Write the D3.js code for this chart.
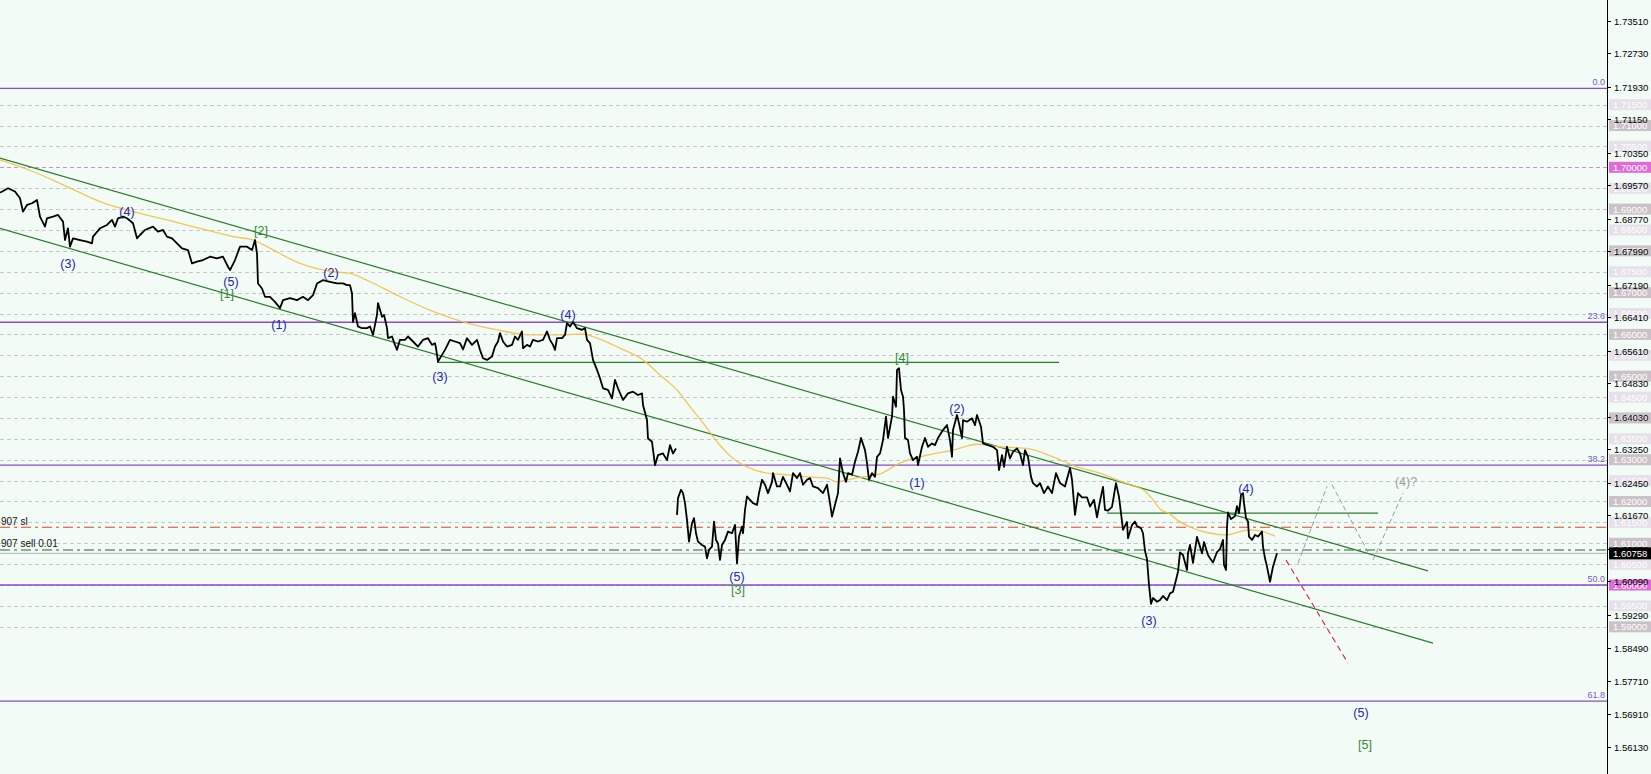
<!DOCTYPE html>
<html><head><meta charset="utf-8">
<script src="https://cdn.jsdelivr.net/npm/d3@7"></script>
<style>body{margin:0;background:#f2fbf6;}svg{display:block;}</style>
</head><body><svg id="c" width="1651" height="774"></svg>
<script>
// ---------- DATA ----------
const priceBars = [0,8,15,20,23,27,32,37,40,45,47,53,58,63,65,68,70,73,80,87,92,93,100,107,112,115,118,123,127,133,137,140,145,153,158,163,167,172,177,182,188,192,197,203,210,217,223,228,230,235,240,247,252,255,257,258,262,265,270,275,280,283,290,297,303,308,313,317,323,330,337,343,347,350,352,353,355,358,362,367,370,373,377,378,382,384,387,388,392,395,397,400,405,408,413,418,423,428,432,435,436,438,442,445,450,455,460,463,467,472,477,480,483,487,492,495,498,500,503,507,512,515,518,522,523,527,530,533,538,543,547,550,553,555,557,562,565,567,570,573,577,582,585,587,590,593,597,600,603,608,612,615,618,623,628,633,638,642,643,647,648,652,655,658,663,667,670,673,676,
676.5,
677,678,681,683,685,687,689,692,694,696,698,702,705,707,709,712,714,716,718,720,722,725,728,732,735,737,739,742,743,745,747,750,753,757,759,762,765,768,772,773,777,780,783,787,790,793,797,800,803,807,810,813,818,823,827,830,832,835,838,840,843,846,848,852,855,858,861,865,867,869,872,875,877,880,883,886,888,892,893,896,897,899,901,903,904,905,908,910,913,917,918,922,925,928,932,935,938,943,947,950,952,953,957,959,962,963,967,972,975,977,981,983,988,993,997,999,1002,1004,1007,1010,1013,1017,1020,1023,1025,1028,1031,1033,1037,1040,1044,1048,1052,1056,1060,1065,1070,1072,1075,1078,1082,1087,1090,1094,1097,1100,1103,1105,1108,1112,1116,1119,1121,1123,1127,1128,1132,1135,1137,1141,1143,1145,1147,1149,1151,1153,1157,1160,1163,1167,1170,1173,1176,1178,1180,1183,1187,1188,1190,1193,1197,1200,1202,1204,1208,1210,1213,1217,1220,1223,1224,1226,1227,1228,1231,1235,1237,1239,1241,1243,1244,1246,1248,1249,1252,1255,1258,1262,1263,1265,1267,1270,1273,1275,1277];
const priceVals = [1.6939,1.6950,1.6942,1.6926,1.6894,1.6910,1.6914,1.6922,1.6882,1.6858,1.6878,1.6882,1.6886,1.6870,1.6826,1.6854,1.6810,1.6830,1.6826,1.6822,1.6818,1.6834,1.6854,1.6862,1.6874,1.6858,1.6878,1.6882,1.6878,1.6866,1.6830,1.6838,1.6850,1.6858,1.6846,1.6850,1.6834,1.6830,1.6818,1.6806,1.6802,1.6770,1.6774,1.6778,1.6786,1.6782,1.6786,1.6762,1.6754,1.6778,1.6810,1.6810,1.6802,1.6826,1.6794,1.6722,1.6710,1.6690,1.6690,1.6678,1.6663,1.6682,1.6687,1.6682,1.6690,1.6682,1.6694,1.6722,1.6730,1.6726,1.6722,1.6722,1.6718,1.6718,1.6698,1.6630,1.6651,1.6619,1.6615,1.6615,1.6619,1.6599,1.6647,1.6675,1.6642,1.6647,1.6615,1.6591,1.6595,1.6575,1.6563,1.6587,1.6587,1.6595,1.6583,1.6571,1.6587,1.6591,1.6575,1.6579,1.6567,1.6535,1.6551,1.6563,1.6587,1.6583,1.6579,1.6564,1.6591,1.6575,1.6587,1.6563,1.6543,1.6539,1.6547,1.6571,1.6583,1.6603,1.6583,1.6571,1.6575,1.6595,1.6587,1.6607,1.6567,1.6575,1.6571,1.6587,1.6583,1.6587,1.6607,1.6587,1.6575,1.6563,1.6591,1.6591,1.6599,1.6627,1.6619,1.6630,1.6615,1.6611,1.6615,1.6587,1.6579,1.6539,1.6515,1.6495,1.6471,1.6467,1.6447,1.6491,1.6471,1.6443,1.6459,1.6463,1.6455,1.6459,1.6431,1.6395,1.6351,1.6343,1.6287,1.6311,1.6315,1.6299,1.6335,1.6315,1.6327,
null,
1.6168,1.6208,1.6228,1.6220,1.6196,1.6156,1.6104,1.6148,1.6160,1.6124,1.6104,1.6096,1.6092,1.6064,1.6084,1.6092,1.6152,1.6108,1.6100,1.6060,1.6096,1.6108,1.6128,1.6124,1.6144,1.6052,1.6116,1.6140,1.6124,1.6180,1.6212,1.6204,1.6196,1.6192,1.6220,1.6252,1.6240,1.6220,1.6247,1.6268,1.6236,1.6236,1.6259,1.6240,1.6224,1.6268,1.6256,1.6268,1.6240,1.6252,1.6256,1.6236,1.6232,1.6220,1.6240,1.6196,1.6164,1.6192,1.6220,1.6303,1.6268,1.6247,1.6268,1.6264,1.6295,1.6319,1.6352,1.6323,1.6292,1.6252,1.6268,1.6259,1.6307,1.6315,1.6347,1.6403,1.6352,1.6403,1.6451,1.6427,1.6515,1.6519,1.6467,1.6451,1.6419,1.6352,1.6347,1.6315,1.6299,1.6307,1.6287,1.6331,1.6352,1.6331,1.6339,1.6335,1.6352,1.6371,1.6383,1.6347,1.6307,1.6371,1.6407,1.6387,1.6352,1.6395,1.6391,1.6399,1.6383,1.6407,1.6379,1.6339,1.6335,1.6331,1.6323,1.6275,1.6311,1.6283,1.6331,1.6303,1.6319,1.6327,1.6315,1.6287,1.6323,1.6307,1.6259,1.6244,1.6236,1.6244,1.6220,1.6236,1.6220,1.6268,1.6244,1.6236,1.6280,1.6252,1.6168,1.6220,1.6210,1.6210,1.6188,1.6204,1.6162,1.6201,1.6235,1.6180,1.6178,1.6187,1.6244,1.6211,1.6172,1.6132,1.6151,1.6112,1.6144,1.6152,1.6141,1.6136,1.6124,1.6082,1.6062,1.6000,1.5955,1.5969,1.5960,1.5964,1.5974,1.5964,1.5980,1.5984,1.6012,1.6032,1.6078,1.6072,1.6036,1.6076,1.6096,1.6053,1.6115,1.6092,1.6076,1.6103,1.6072,1.6064,1.6054,1.6079,1.6086,1.6108,1.6048,1.6036,1.6139,1.6174,1.6158,1.6165,1.6189,1.6172,1.6216,1.6220,1.6196,1.6160,1.6152,1.6116,1.6108,1.6120,1.6116,1.6128,1.6092,1.6064,1.6044,1.6008,1.6044,1.6060,1.6076];

const maBars = [0,33,67,100,133,167,200,233,253,267,300,333,350,370,397,430,463,497,530,563,583,597,620,643,660,677,690,703,717,733,747,767,787,807,827,837,847,863,880,900,927,953,977,1000,1027,1053,1077,1100,1122,1146,1153,1160,1170,1177,1190,1210,1227,1240,1250,1263,1275];
const maVals = [1.7018,1.6990,1.6954,1.6918,1.6894,1.6874,1.6854,1.6834,1.6826,1.6810,1.6770,1.6750,1.6746,1.6726,1.6694,1.6658,1.6630,1.6611,1.6599,1.6599,1.6601,1.6591,1.6567,1.6539,1.6503,1.6467,1.6427,1.6388,1.6343,1.6303,1.6283,1.6268,1.6264,1.6259,1.6256,1.6247,1.6252,1.6259,1.6266,1.6292,1.6311,1.6323,1.6337,1.6331,1.6327,1.6307,1.6283,1.6268,1.6247,1.6223,1.6204,1.6182,1.6170,1.6156,1.6139,1.6124,1.6120,1.6128,1.6132,1.6128,1.6117];

const tickValues = [1.73510,1.72730,1.71930,1.71150,1.70350,1.69570,1.68770,1.67990,1.67190,1.66410,1.65610,1.64830,1.64030,1.63250,1.62450,1.61670,1.60870,1.60090,1.59290,1.58490,1.57710,1.56910,1.56130];

const roundLevels = [1.715,1.710,1.705,1.700,1.695,1.690,1.685,1.680,1.675,1.670,1.665,1.660,1.655,1.650,1.645,1.640,1.635,1.630,1.625,1.620,1.615,1.610,1.605,1.600,1.595,1.590];

const fibNames = ["0.0","23.6","38.2","50.0","61.8"];
const fibPrices = [1.7189,1.6629,1.6287,1.6000,1.5722];

const slPrice = 1.61385, sellPrice = 1.6084, bidPrice = 1.60758;
const orderTexts = ["907 sl","907 sell 0.01"];

// trend lines: [bar1, price1, bar2, price2]
const channelUpper = [0,1.7022,1428,1.6034];
const channelLower = [0,1.6854,1433,1.5861];
const hLineLong = [437,1.6533,1059,1.6533];
const hLineShort = [1107,1.6172,1378,1.6172];
const forecastGray = [[1298,1.6052,1327,1.6236],[1332,1.6240,1368,1.6079],[1373,1.6060,1403,1.6220]];
const forecastRed = [1286,1.6060,1348,1.5813];

const waveTexts  = ["(3)","(4)","(5)","[1]","[2]","(1)","(2)","(3)","(4)","(5)","[3]","[4]","(1)","(2)","(3)","(4)","(4)?","(5)","[5]"];
const waveBars   = [68,127,231,227,261,279,331,440,568,737,738,902,917,957,1149,1246,1406,1361,1365];
const wavePrices = [1.6768,1.6894,1.6726,1.6697,1.6848,1.6623,1.6746,1.6499,1.6647,1.6020,1.5987,1.6543,1.6244,1.6421,1.5914,1.6229,1.6246,1.5693,1.5617];
const waveKinds  = ["b","b","b","g","g","b","b","b","b","b","g","g","b","b","b","b","q","b","g"];

// ---------- DRAW ----------
const W = 1651, H = 774, axisX = 1607;
const FONT = "Liberation Sans, Arial, sans-serif";
const svg = d3.select("#c");
const x = d3.scaleLinear().domain([0,1607]).range([0,1607]);
const y = d3.scaleLinear().domain([1.56130,1.73510]).range([746.7,20.7]);

svg.append("rect").attr("width",W).attr("height",H).attr("fill","#f2fbf6");
const plot = svg.append("g");

// round-number dashed levels
plot.selectAll(".lvl").data(roundLevels).enter().append("line")
  .attr("x1",0).attr("x2",axisX)
  .attr("y1",d=>Math.round(y(d))+0.5).attr("y2",d=>Math.round(y(d))+0.5)
  .attr("stroke",d=>(Math.abs(d-1.70)<1e-6||Math.abs(d-1.60)<1e-6)?"#d78ad7":"#c6c6c6")
  .attr("stroke-width",1).attr("stroke-dasharray","4,3");

// fib levels
plot.selectAll(".fib").data(fibPrices).enter().append("line")
  .attr("x1",0).attr("x2",axisX)
  .attr("y1",d=>y(d)).attr("y2",d=>y(d))
  .attr("stroke","#8a4cc8").attr("stroke-width",1.4);
plot.selectAll(".fibt").data(fibPrices).enter().append("text")
  .attr("x",axisX-2).attr("y",d=>y(d)-3)
  .attr("text-anchor","end").attr("font-family",FONT)
  .attr("font-size",9).attr("fill","#7a5cc8").text((d,i)=>fibNames[i]);

// order lines
plot.append("line").attr("x1",0).attr("x2",axisX).attr("y1",y(slPrice)).attr("y2",y(slPrice))
  .attr("stroke","#e0452a").attr("stroke-width",1.1).attr("stroke-dasharray","10,4,3,4");
plot.append("line").attr("x1",0).attr("x2",axisX).attr("y1",y(sellPrice)).attr("y2",y(sellPrice))
  .attr("stroke","#1f6b2a").attr("stroke-width",1.1).attr("stroke-dasharray","10,4,3,4");
plot.append("line").attr("x1",0).attr("x2",axisX).attr("y1",y(bidPrice)).attr("y2",y(bidPrice))
  .attr("stroke","#b4b4b4").attr("stroke-width",1);
plot.append("text").attr("x",1).attr("y",y(slPrice)-2).attr("font-family",FONT)
  .attr("font-size",10).attr("fill","#111").text(orderTexts[0]);
plot.append("text").attr("x",1).attr("y",y(sellPrice)-3).attr("font-family",FONT)
  .attr("font-size",10).attr("fill","#111").text(orderTexts[1]);

// trend lines
function seg(s,color,w,dash){
  const l = plot.append("line").attr("x1",x(s[0])).attr("y1",y(s[1])).attr("x2",x(s[2])).attr("y2",y(s[3]))
    .attr("stroke",color).attr("stroke-width",w);
  if(dash) l.attr("stroke-dasharray",dash);
}
seg(channelUpper,"#2b7d2b",1.2);
seg(channelLower,"#2b7d2b",1.2);
seg(hLineLong,"#2b7d2b",1.2);
seg(hLineShort,"#2b7d2b",1.2);

// moving average
const ma = maBars.map((b,i)=>[b,maVals[i]]);
plot.append("path").datum(ma)
  .attr("d",d3.line().x(d=>x(d[0])).y(d=>y(d[1])).curve(d3.curveMonotoneX))
  .attr("fill","none").attr("stroke","#f2c04a").attr("stroke-width",1.3).attr("opacity",0.9);

// price
const pr = priceBars.map((b,i)=>[b,priceVals[i]]);
plot.append("path").datum(pr)
  .attr("d",d3.line().defined(d=>d[1]!==null).x(d=>x(d[0])).y(d=>y(d[1])))
  .attr("fill","none").attr("stroke","#000").attr("stroke-width",1.8).attr("stroke-linejoin","round");

// forecasts
forecastGray.forEach(s=>seg(s,"#9a9a9a",1,"5,3"));
seg(forecastRed,"#e0203a",1.1,"6,4");

// wave labels
const kindColor = {b:"#2626ad",g:"#3a8a3a",q:"#a0a0a0"};
plot.selectAll(".wl").data(waveTexts).enter().append("text")
  .attr("x",(d,i)=>x(waveBars[i])).attr("y",(d,i)=>y(wavePrices[i]))
  .attr("text-anchor","middle").attr("dominant-baseline","central")
  .attr("font-family",FONT).attr("font-size",12.5)
  .attr("fill",(d,i)=>kindColor[waveKinds[i]]).text(d=>d);

// axis area
const ax = svg.append("g");
ax.append("rect").attr("x",axisX).attr("y",0).attr("width",W-axisX).attr("height",H).attr("fill","#f2fbf6");
ax.selectAll(".lb").data(roundLevels).enter().append("rect")
  .attr("x",axisX+2).attr("y",d=>y(d)-5.5).attr("width",W-axisX-2).attr("height",11)
  .attr("fill",d=>{
    if(Math.abs(d-1.70)<1e-6||Math.abs(d-1.60)<1e-6) return "#e06ad8";
    return (Math.round(d*1000)%10===0)?"#cbc1c8":"#e6e0ea";
  });
ax.selectAll(".lbt").data(roundLevels).enter().append("text")
  .attr("x",axisX+6).attr("y",d=>y(d)+3.5)
  .attr("font-family",FONT).attr("font-size",9.5)
  .attr("fill","#ffffff").text(d=>d.toFixed(5));
ax.append("line").attr("x1",axisX+0.5).attr("x2",axisX+0.5).attr("y1",0).attr("y2",H)
  .attr("stroke","#000").attr("stroke-width",1);
const tg = ax.selectAll(".tk").data(tickValues).enter().append("g")
  .attr("transform",d=>`translate(${axisX},${Math.round(y(d))+0.5})`);
tg.append("line").attr("x1",1).attr("x2",4).attr("stroke","#000");
tg.append("text").attr("x",7).attr("y",3.3)
  .attr("font-family",FONT).attr("font-size",9.5)
  .attr("fill","#000").text(d=>d.toFixed(5));
ax.append("rect").attr("x",axisX+2).attr("y",y(bidPrice)-6).attr("width",W-axisX-2).attr("height",12).attr("fill","#000");
ax.append("text").attr("x",axisX+6).attr("y",y(bidPrice)+3.5)
  .attr("font-family",FONT).attr("font-size",9.5)
  .attr("fill","#fff").text(bidPrice.toFixed(5));
</script></body></html>
